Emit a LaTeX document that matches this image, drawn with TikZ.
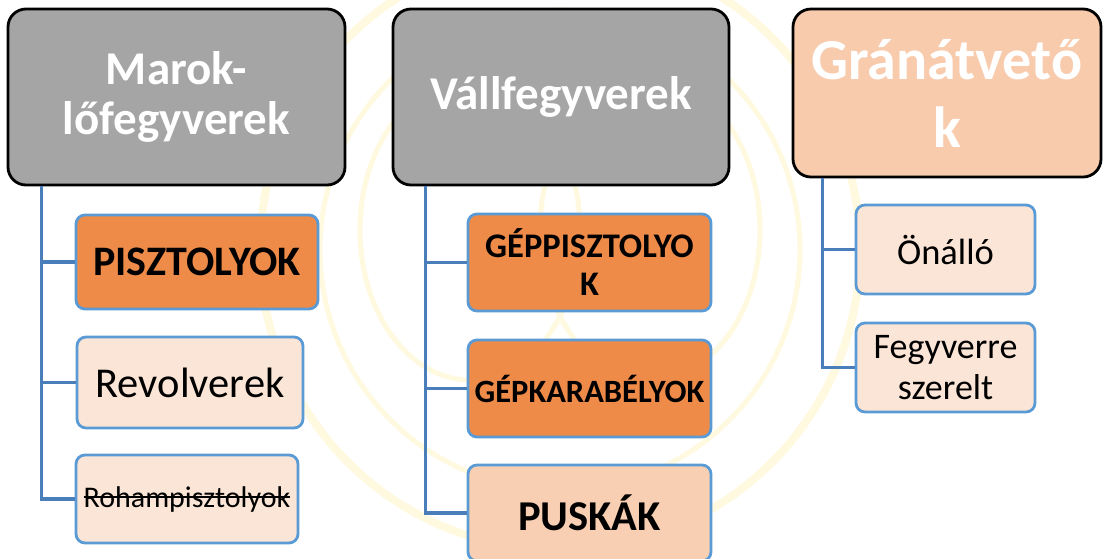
\documentclass[tikz,border=0pt]{standalone}
\usepackage{fontspec}
\setmainfont{Carlito}
\usetikzlibrary{calc}
\newcommand{\mystrike}[1]{\sbox0{#1}\rlap{\usebox0}\rule[0.3em]{\wd0}{1.6pt}}
\definecolor{hgrey}{HTML}{A5A5A5}
\definecolor{hpeach}{HTML}{F8CBAD}
\definecolor{korange}{HTML}{EE8B48}
\definecolor{klight}{HTML}{FBE5D6}
\definecolor{kpeach}{HTML}{F8CFB2}
\definecolor{kblue}{HTML}{5B9BD5}
\definecolor{cblue}{HTML}{4A7EBB}
\definecolor{wmark}{HTML}{FFF9E0}
\tikzset{
  hdr/.style={draw=black, line width=2.8pt, rounded corners=18pt, text=white,
    align=center, inner sep=0pt},
  kid/.style={draw=kblue, line width=2.8pt, rounded corners=9pt, align=center,
    inner sep=0pt, text=black},
  conn/.style={draw=cblue, line width=3.2pt},
  wm/.style={draw=wmark, line width=8pt}
}
\begin{document}
\begin{tikzpicture}[x=1pt,y=-1pt]
\useasboundingbox[fill=white] (0,0) rectangle (1103,558);
% faint watermark
\draw[wm] (560,250) circle[radius=300];
\draw[wm, line width=5pt] (560,250) circle[radius=240];
\draw[wm, line width=5pt] (470,230) ellipse[x radius=110, y radius=150];
\draw[wm, line width=5pt] (650,230) ellipse[x radius=110, y radius=150];
% headers
\node[hdr, fill=hgrey, minimum width=337pt, minimum height=176pt,
  font=\fontsize{47}{50}\selectfont\bfseries] (h1) at (176.5,97) {Marok-\\lőfegyverek};
\node[hdr, fill=hgrey, minimum width=336pt, minimum height=176pt,
  font=\fontsize{47}{50}\selectfont\bfseries] (h2) at (561,97) {Vállfegyverek};
\node[hdr, fill=hpeach, minimum width=308pt, minimum height=168pt,
  font=\fontsize{58}{68}\selectfont\bfseries] (h3) at (947,93) {Gránátvető\\k};
% column 1
\node[kid, fill=korange, minimum width=242pt, minimum height=94pt,
  font=\fontsize{42}{48}\selectfont\bfseries] (p1) at (197,262) {PISZTOLYOK};
\node[kid, fill=klight, minimum width=226pt, minimum height=91pt,
  font=\fontsize{42.5}{48}\selectfont] (p2) at (190,382.5) {Revolverek};
\node[kid, fill=klight, minimum width=222pt, minimum height=88pt,
  font=\fontsize{30}{36}\selectfont] (p3) at (187,499) {\mystrike{Rohampisztolyok}};
% column 2
\node[kid, fill=korange, minimum width=243pt, minimum height=97pt,
  font=\fontsize{34.5}{38}\selectfont\bfseries] (v1) at (589.5,262.5) {GÉPPISZTOLYO\\K};
\node[kid, fill=korange, minimum width=243pt, minimum height=97pt,
  font=\fontsize{32.5}{38}\selectfont\bfseries] (v2) at (589.5,388.5) {GÉPKARABÉLYOK};
\node[kid, fill=kpeach, minimum width=243pt, minimum height=96pt,
  font=\fontsize{42.5}{48}\selectfont\bfseries] (v3) at (589.5,513) {PUSKÁK};
% column 3
\node[kid, fill=klight, minimum width=179pt, minimum height=89pt,
  font=\fontsize{36.5}{41}\selectfont] (g1) at (945.5,249.5) {Önálló};
\node[kid, fill=klight, minimum width=179pt, minimum height=89pt,
  font=\fontsize{36}{41}\selectfont] (g2) at (945.5,367.5) {Fegyverre\\szerelt};
% connectors
\foreach \c in {p1,p2,p3} \draw[conn] (h1.south west) ++(35,0) |- (\c.west);
\foreach \c in {v1,v2,v3} \draw[conn] (h2.south west) ++(34,0) |- (\c.west);
\foreach \c in {g1,g2} \draw[conn] (h3.south west) ++(31,0) |- (\c.west);
\end{tikzpicture}
\end{document}
